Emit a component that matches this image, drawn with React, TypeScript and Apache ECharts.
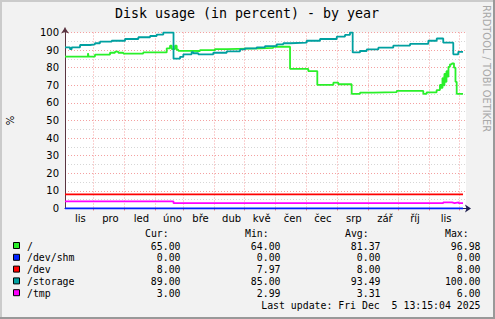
import React, { useEffect, useRef } from 'react';
import * as echarts from 'echarts';

// x values are days since 1 Nov 2024
const monthLabels = ['lis', 'pro', 'led', 'úno', 'bře', 'dub', 'kvě', 'čen', 'čec', 'srp', 'zář', 'říj', 'lis'];
const monthStarts = [0, 30, 61, 92, 120, 151, 181, 212, 242, 273, 304, 334, 365, 395];
const monthLabelDays = [17, 47, 78, 109, 137, 168, 198, 229, 259, 290, 321, 351, 382];
const yTicks = [0, 10, 20, 30, 40, 50, 60, 70, 80, 90, 100];

const seriesNames = ['/', '/dev/shm', '/dev', '/storage', '/tmp'];
const seriesColors = ['#2af02a', '#0022ff', '#ff0000', '#00a0a0', '#ff00ff'];
const curValues = ['65.00', '0.00', '8.00', '89.00', '3.00'];
const minValues = ['64.00', '0.00', '7.97', '85.00', '2.99'];
const avgValues = ['81.37', '0.00', '8.00', '93.49', '3.31'];
const maxValues = ['96.98', '0.00', '8.00', '100.00', '6.00'];
const lastUpdate = 'Last update: Fri Dec  5 13:15:04 2025';

const rootData = [
  [1.7, 86.3], [24.6, 88.2], [25.3, 86.3], [31.6, 87.4], [46.6, 88.5], [51.6, 89.1], [54.9, 88.5],
  [59.9, 88], [79.8, 88.7], [103.2, 91], [106.5, 92.5], [108.2, 90.6], [111.5, 92.5], [113.2, 90.2],
  [114.8, 89.6], [126.4, 89.5], [136.4, 90], [151.4, 90.6], [163.1, 91], [196.3, 91.3], [209.6, 91.9],
  [226.3, 79.3], [244.5, 78.1], [253.5, 70.2], [269.5, 71.5], [274.5, 70.6], [287.8, 65.1], [296.1, 65.8],
  [309.4, 66.1], [332.7, 66.8], [359.3, 65.1], [362.6, 66], [372.6, 67.3], [375.9, 70.2], [377.4, 68.5],
  [378.4, 74], [379.4, 70], [380.4, 76.5], [381.4, 72], [382.4, 78], [383.4, 75], [384.4, 80.5],
  [385.9, 81.9], [387.9, 82.5], [389.9, 80], [391.4, 72], [392.6, 65.1], [398.9, 65],
];
const shmData = [[1.7, 0], [398.9, 0]];
const devData = [[1.7, 8], [398.9, 8]];
const storageData = [
  [1.7, 91.6], [6.7, 90.5], [8.4, 91.6], [16.7, 92.9], [26.6, 93.3], [31.6, 93.9], [36.6, 94.8],
  [48.3, 95.3], [61.6, 96.3], [74.9, 97.3], [86.6, 98], [93.2, 98.8], [99.8, 100], [110, 85.1],
  [116.5, 86.2], [119.8, 87.6], [128.1, 88.9], [129.7, 88.2], [134.7, 87.6], [149.7, 88.5], [163.1, 89.3],
  [176.4, 90.4], [181.3, 91], [193, 91.6], [201.3, 92.3], [213, 93.3], [219.6, 93.9], [226.3, 94.2],
  [242.9, 95.3], [256.2, 96.3], [272.9, 97.6], [281.1, 98.6], [286.1, 100], [288.8, 88.7], [296.1, 89.5],
  [302.8, 90.4], [314.4, 91.4], [329.3, 92.5], [346, 93.5], [364.3, 95.3], [372.7, 96.6], [379.2, 94.2],
  [389.2, 87.6], [394.2, 89], [398.9, 89],
];
const tmpData = [[1.7, 4], [110, 3], [379.2, 3.5], [388, 3.1], [390.5, 3.5], [394.5, 3], [398.9, 3]];

const allData = [rootData, shmData, devData, storageData, tmpData];

const MONO = '"DejaVu Sans Mono", monospace';
const SANS = '"DejaVu Sans", sans-serif';

function txt(text: string, x: number, y: number, align: string, size: number, family: string, fill = '#000', extra: any = {}) {
  return {
    type: 'text',
    x,
    y,
    silent: true,
    ...extra,
    style: {
      text,
      font: `${size}px ${family}`,
      fill,
      align,
      textAlign: align,
      verticalAlign: 'middle',
      textVerticalAlign: 'middle',
    },
  };
}

export default function App() {
  const ref = useRef<HTMLDivElement>(null);
  useEffect(() => {
    const chart = echarts.init(ref.current!, null, { renderer: 'svg' });

    const gridLeft = 65;
    const gridTop = 32.5;
    const gridW = 401;
    const gridH = 176;
    const axisColor = '#5a3440';
    const legendSize = 9.85;

    const graphics: any[] = [];
    // frame
    graphics.push({ type: 'rect', shape: { x: 0, y: 0, width: 495, height: 2 }, style: { fill: '#cbcbcb' }, silent: true });
    graphics.push({ type: 'rect', shape: { x: 0, y: 0, width: 2, height: 319 }, style: { fill: '#cbcbcb' }, silent: true });
    graphics.push({ type: 'rect', shape: { x: 493, y: 0, width: 2, height: 319 }, style: { fill: '#999999' }, silent: true });
    graphics.push({ type: 'rect', shape: { x: 0, y: 317, width: 495, height: 2 }, style: { fill: '#999999' }, silent: true });
    // axis extensions
    graphics.push({ type: 'line', shape: { x1: gridLeft, y1: gridTop, x2: gridLeft, y2: gridTop - 5 }, style: { stroke: axisColor, lineWidth: 1 }, silent: true, z: 10 });
    graphics.push({ type: 'line', shape: { x1: gridLeft + gridW, y1: gridTop + gridH, x2: gridLeft + gridW + 3, y2: gridTop + gridH }, style: { stroke: '#202050', lineWidth: 1 }, silent: true, z: 10 });
    // title
    graphics.push(txt('Disk usage (in percent) - by year', 247, 13.5, 'center', 13.3, MONO));
    // watermark
    graphics.push(txt('RRDTOOL / TOBI OETIKER', 486, 5, 'left', 9.9, SANS, '#a8a8a8', { rotation: -Math.PI / 2 }));
    // y axis unit
    graphics.push(txt('%', 10.5, 120.5, 'center', 10, SANS, '#000', { rotation: Math.PI / 2 }));

    // legend table
    const headerY = 233.5;
    const rowTop = 246;
    const rowStep = 11.8;
    graphics.push(txt('Cur:', 145, headerY, 'left', legendSize, MONO));
    graphics.push(txt('Min:', 245, headerY, 'left', legendSize, MONO));
    graphics.push(txt('Avg:', 345, headerY, 'left', legendSize, MONO));
    graphics.push(txt('Max:', 445, headerY, 'left', legendSize, MONO));
    seriesNames.forEach((name, i) => {
      const y = rowTop + i * rowStep;
      graphics.push({
        type: 'rect',
        shape: { x: 13.5, y: y - 3.5, width: 6, height: 6 },
        style: { fill: seriesColors[i], stroke: '#000', lineWidth: 1 },
        silent: true,
      });
      graphics.push(txt(name, 27, y, 'left', legendSize, MONO));
      graphics.push(txt(curValues[i], 180.5, y, 'right', legendSize, MONO));
      graphics.push(txt(minValues[i], 280.5, y, 'right', legendSize, MONO));
      graphics.push(txt(avgValues[i], 380.5, y, 'right', legendSize, MONO));
      graphics.push(txt(maxValues[i], 480.5, y, 'right', legendSize, MONO));
    });
    graphics.push(txt(lastUpdate, 480.5, rowTop + 5 * rowStep, 'right', legendSize, MONO));

    const option: any = {
      animation: false,
      backgroundColor: '#f2f2f2',
      grid: {
        left: gridLeft,
        top: gridTop,
        width: gridW,
        height: gridH,
        show: true,
        backgroundColor: '#ffffff',
        borderWidth: 0,
        containLabel: false,
      },
      xAxis: {
        type: 'value',
        min: 1.7,
        max: 401.9,
        axisLine: {
          show: true,
          onZero: false,
          lineStyle: { color: '#202050', width: 1 },
          symbol: ['none', 'arrow'],
          symbolSize: [6, 6],
          symbolOffset: [0, 5],
        },
        axisTick: {
          show: true,
          length: 2,
          customValues: monthStarts,
          lineStyle: { color: '#f08080' },
        },
        axisLabel: {
          show: true,
          customValues: monthLabelDays,
          margin: 5,
          fontSize: 10,
          fontFamily: SANS,
          color: '#000',
          formatter: (v: number) => {
            let best = 0;
            monthLabelDays.forEach((d, i) => {
              if (Math.abs(d - v) < Math.abs(monthLabelDays[best] - v)) best = i;
            });
            return monthLabels[best];
          },
        },
        splitLine: {
          show: true,
          lineStyle: { color: '#f4a0a0', type: [1, 2], width: 1 },
        },
      },
      yAxis: {
        type: 'value',
        min: yTicks[0],
        max: yTicks[yTicks.length - 1],
        interval: 10,
        axisLine: {
          show: true,
          onZero: false,
          lineStyle: { color: axisColor, width: 1 },
          symbol: ['none', 'arrow'],
          symbolSize: [6, 6],
          symbolOffset: [0, 5],
        },
        axisTick: { show: false },
        axisLabel: { show: true, margin: 6, fontSize: 10, fontFamily: SANS, color: '#000' },
        splitLine: { show: true, lineStyle: { color: '#f4a0a0', type: [1, 2], width: 1 } },
        minorTick: { show: false, splitNumber: 2 },
        minorSplitLine: { show: true, lineStyle: { color: '#d6d6d6', type: [1, 2], width: 1 } },
      },
      series: seriesNames.map((name, i) => ({
        type: 'line',
        name,
        data: allData[i],
        step: 'end',
        symbol: 'none',
        showSymbol: false,
        silent: true,
        z: 3 + i * 0.01,
        lineStyle: { color: seriesColors[i], width: 1.8 },
        itemStyle: { color: seriesColors[i] },
      })),
      graphic: graphics,
    };
    chart.setOption(option);
    return () => chart.dispose();
  }, []);
  return <div ref={ref} style={{ position: 'fixed', left: 0, top: 0, width: 495, height: 319 }} />;
}
